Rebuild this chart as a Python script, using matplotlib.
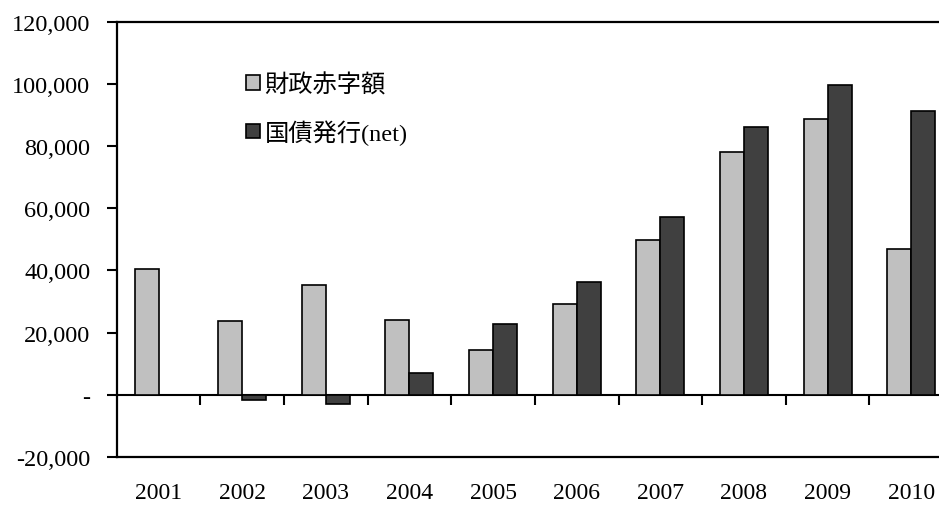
import numpy as np
import matplotlib.pyplot as plt
from matplotlib.patches import Rectangle
from matplotlib.ticker import FuncFormatter

years = ['2001', '2002', '2003', '2004', '2005', '2006', '2007', '2008', '2009', '2010']
deficit = [40500, 23800, 35300, 23900, 14500, 29250, 49900, 78200, 88700, 46900]
bond_issue = [0, -1800, -3100, 6850, 22600, 36100, 57300, 86000, 99600, 91200]
labels = ['財政赤字額', '国債発行(net)']

light = '#c0c0c0'
dark = '#404040'
serif = ['Liberation Serif', 'Noto Sans CJK JP']
plt.rcParams['font.family'] = serif

fig = plt.figure(figsize=(9.39, 5.06), dpi=100)
ax = fig.add_axes([0.1243, 0.0949, 0.8907, 0.8606])

x = np.arange(len(years))
w = 0.287
ax.bar(x - w / 2, deficit, w, color=light, edgecolor='black', linewidth=1.2, zorder=3)
ax.bar(x + w / 2, bond_issue, w, color=dark, edgecolor='black', linewidth=1.2, zorder=3)

ax.set_xlim(-0.5, len(years) - 0.5)
ax.set_ylim(-20000, 120000)
ax.set_yticks(np.arange(-20000, 120001, 20000))

def fmt(v, pos):
    if v == 0:
        return '-'
    return f'{v:,.0f}'

ax.yaxis.set_major_formatter(FuncFormatter(fmt))
ax.tick_params(axis='y', direction='out', length=7, width=1.5, pad=12, labelsize=17.5)

# year labels sit under the bottom frame, no ticks there
ax.set_xticks(x)
ax.set_xticklabels(years)
ax.tick_params(axis='x', length=0, pad=18, labelsize=17)

for s in ['left', 'top', 'bottom']:
    ax.spines[s].set_linewidth(1.6)
ax.spines['right'].set_visible(False)

# category axis drawn along zero, ticks between groups
zero_axis = ax.secondary_xaxis(20000 / 140000)
zero_axis.set_xticks(x[1:] - 0.5)
zero_axis.set_xticklabels([])
zero_axis.tick_params(direction='out', length=7, width=1.5)
zero_axis.spines['bottom'].set_linewidth(1.5)

handles = [Rectangle((0, 0), 1, 1, facecolor=light, edgecolor='black', linewidth=1.2),
           Rectangle((0, 0), 1, 1, facecolor=dark, edgecolor='black', linewidth=1.2)]
ax.legend(handles, labels, loc='upper left', bbox_to_anchor=(0.155, 0.882),
          frameon=False, fontsize=17.5, handlelength=0.55, handleheight=0.55,
          handletextpad=0.2, labelspacing=0.95, borderpad=0, borderaxespad=0)

fig.savefig('out.png', dpi=100)
